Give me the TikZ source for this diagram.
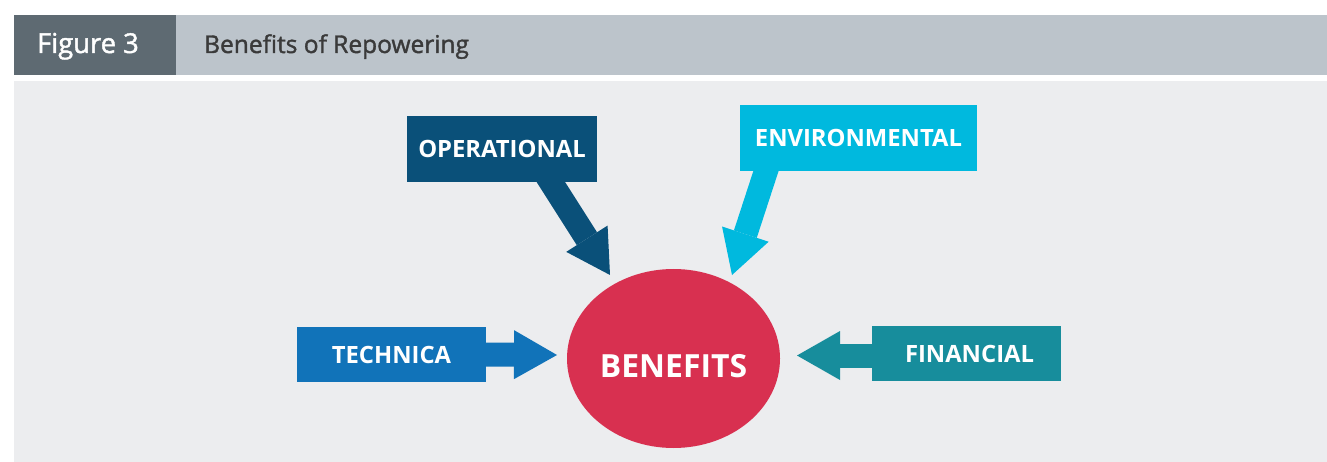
\documentclass[tikz,border=0pt]{standalone}
\usepackage{fontspec}
\setmainfont{Open Sans}
\newfontfamily\headfont{Open Sans}[FakeBold=1.5]
\usetikzlibrary{arrows.meta,shapes.geometric,backgrounds}

\definecolor{headDark}{HTML}{5E6A72}
\definecolor{headLight}{HTML}{BCC4CB}
\definecolor{panelGray}{HTML}{ECEDEF}
\definecolor{titleGray}{HTML}{3A3A3A}
\definecolor{opBlue}{HTML}{0A5079}
\definecolor{envCyan}{HTML}{00B9DE}
\definecolor{techBlue}{HTML}{1173B9}
\definecolor{finTeal}{HTML}{178D9C}
\definecolor{benRed}{HTML}{D83050}

\begin{document}
\begin{tikzpicture}[x=1pt,y=-1pt,
    box/.style={rectangle,inner sep=0pt,text=white,
      font=\bfseries\fontsize{23.8}{28}\selectfont},
    fat/.style={line width=24pt,
      -{Triangle[width=49pt,length=43pt,line width=0pt]}}]
      \useasboundingbox (0,0) rectangle (1327,462);

      % header bar
      \fill[headLight] (14,15) rectangle (1327,75);
      \fill[headDark] (14,15) rectangle (176,75);
      \node[anchor=base,text=white,font=\headfont\fontsize{27.4}{32}\selectfont]
        (fig) at (88,53) {Figure 3};
      \node[anchor=base west,inner sep=0pt,text=titleGray,
        font=\headfont\fontsize{24.5}{29}\selectfont] (title) at (204,53)
        {Benefits of Repowering};

      % boxes
      \node[box,fill=opBlue,minimum width=190pt,minimum height=66pt]
        (oper) at (502,149) {OPERATIONAL};
      \node[box,fill=envCyan,minimum width=237pt,minimum height=66pt]
        (env) at (858.5,138) {ENVIRONMENTAL};
      \node[box,fill=techBlue,minimum width=189pt,minimum height=55pt]
        (tech) at (391.5,354.5) {TECHNICA};
      \node[box,fill=finTeal,minimum width=189pt,minimum height=55pt]
        (fin) at (966.5,353.5) {\hspace*{6pt}FINANCIAL};

      \node[ellipse,fill=benRed,inner sep=0pt,minimum width=213pt,
        minimum height=179pt,text=white,text height=38pt,text depth=0pt,
        font=\bfseries\fontsize{31.9}{37}\selectfont]
        (ben) at (673.5,358.5) {BENEFITS};

      \coordinate (opTip) at (610,275);
      \coordinate (envTip) at (732,275);
      \coordinate (techTip) at (557,355);
      \coordinate (finTip) at (797,355.5);

      \begin{scope}[on background layer]
      \fill[panelGray] (14,81) rectangle (1327,462);
      \path[fat]
      ([xshift=43.6pt,yshift=8.4pt]oper.south) edge[opBlue] (opTip)
      ([xshift=-89.5pt,yshift=9.5pt]env.south) edge[envCyan] (envTip)
      ([xshift=-5pt]tech.east) edge[techBlue] (techTip)
      ([xshift=5pt,yshift=-2pt]fin.west) edge[finTeal] (finTip)
      ;
      \end{scope}
    \end{tikzpicture}
\end{document}
